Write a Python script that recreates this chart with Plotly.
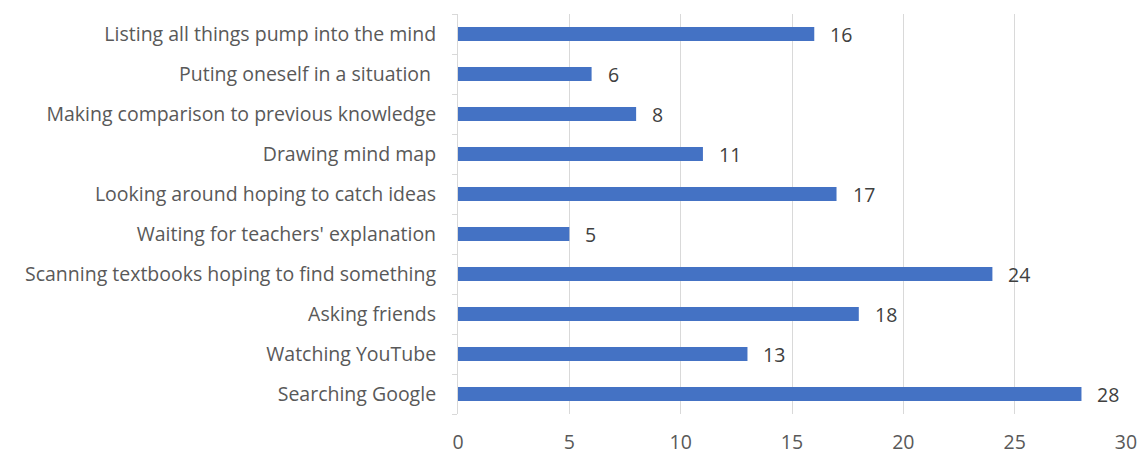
import plotly.graph_objects as go

categories = [
    "Listing all things pump into the mind",
    "Puting oneself in a situation ",
    "Making comparison to previous knowledge",
    "Drawing mind map",
    "Looking around hoping to catch ideas",
    "Waiting for teachers' explanation",
    "Scanning textbooks hoping to find something",
    "Asking friends",
    "Watching YouTube",
    "Searching Google",
]
values = [16, 6, 8, 11, 17, 5, 24, 18, 13, 28]
x_ticks = [0, 5, 10, 15, 20, 25, 30]

FONT = "Open Sans"
FS = 19.5

fig = go.Figure(
    go.Bar(
        y=categories,
        x=values,
        orientation="h",
        marker=dict(color="#4472C4", line=dict(width=0)),
        width=0.35,
    )
)

for c, v in zip(categories, values):
    fig.add_annotation(
        x=v, y=c, text=str(v), showarrow=False, xanchor="left", xshift=14,
        font=dict(family=FONT, size=FS, color="#404040"),
    )

fig.update_layout(
    width=1142, height=455,
    margin=dict(l=458, r=16, t=14, b=41),
    paper_bgcolor="white", plot_bgcolor="white",
    showlegend=False,
    font=dict(family=FONT, size=FS, color="#595959"),
)
fig.update_xaxes(
    range=[0, 30], tickvals=x_ticks, showgrid=True, gridcolor="#d9d9d9", gridwidth=1,
    zeroline=False, showline=False, ticks="", ticklabelstandoff=14,
    automargin=False,
    tickfont=dict(family=FONT, size=FS, color="#595959"), fixedrange=True,
)
fig.update_yaxes(
    categoryorder="array", categoryarray=categories[::-1],
    showline=True, linecolor="#d9d9d9", linewidth=1,
    ticks="outside", tickson="boundaries", ticklen=5, tickcolor="#d9d9d9",
    showgrid=False, automargin=False, ticklabelstandoff=17,
    tickfont=dict(family=FONT, size=FS, color="#595959"),
)

fig.write_html("out.html")
